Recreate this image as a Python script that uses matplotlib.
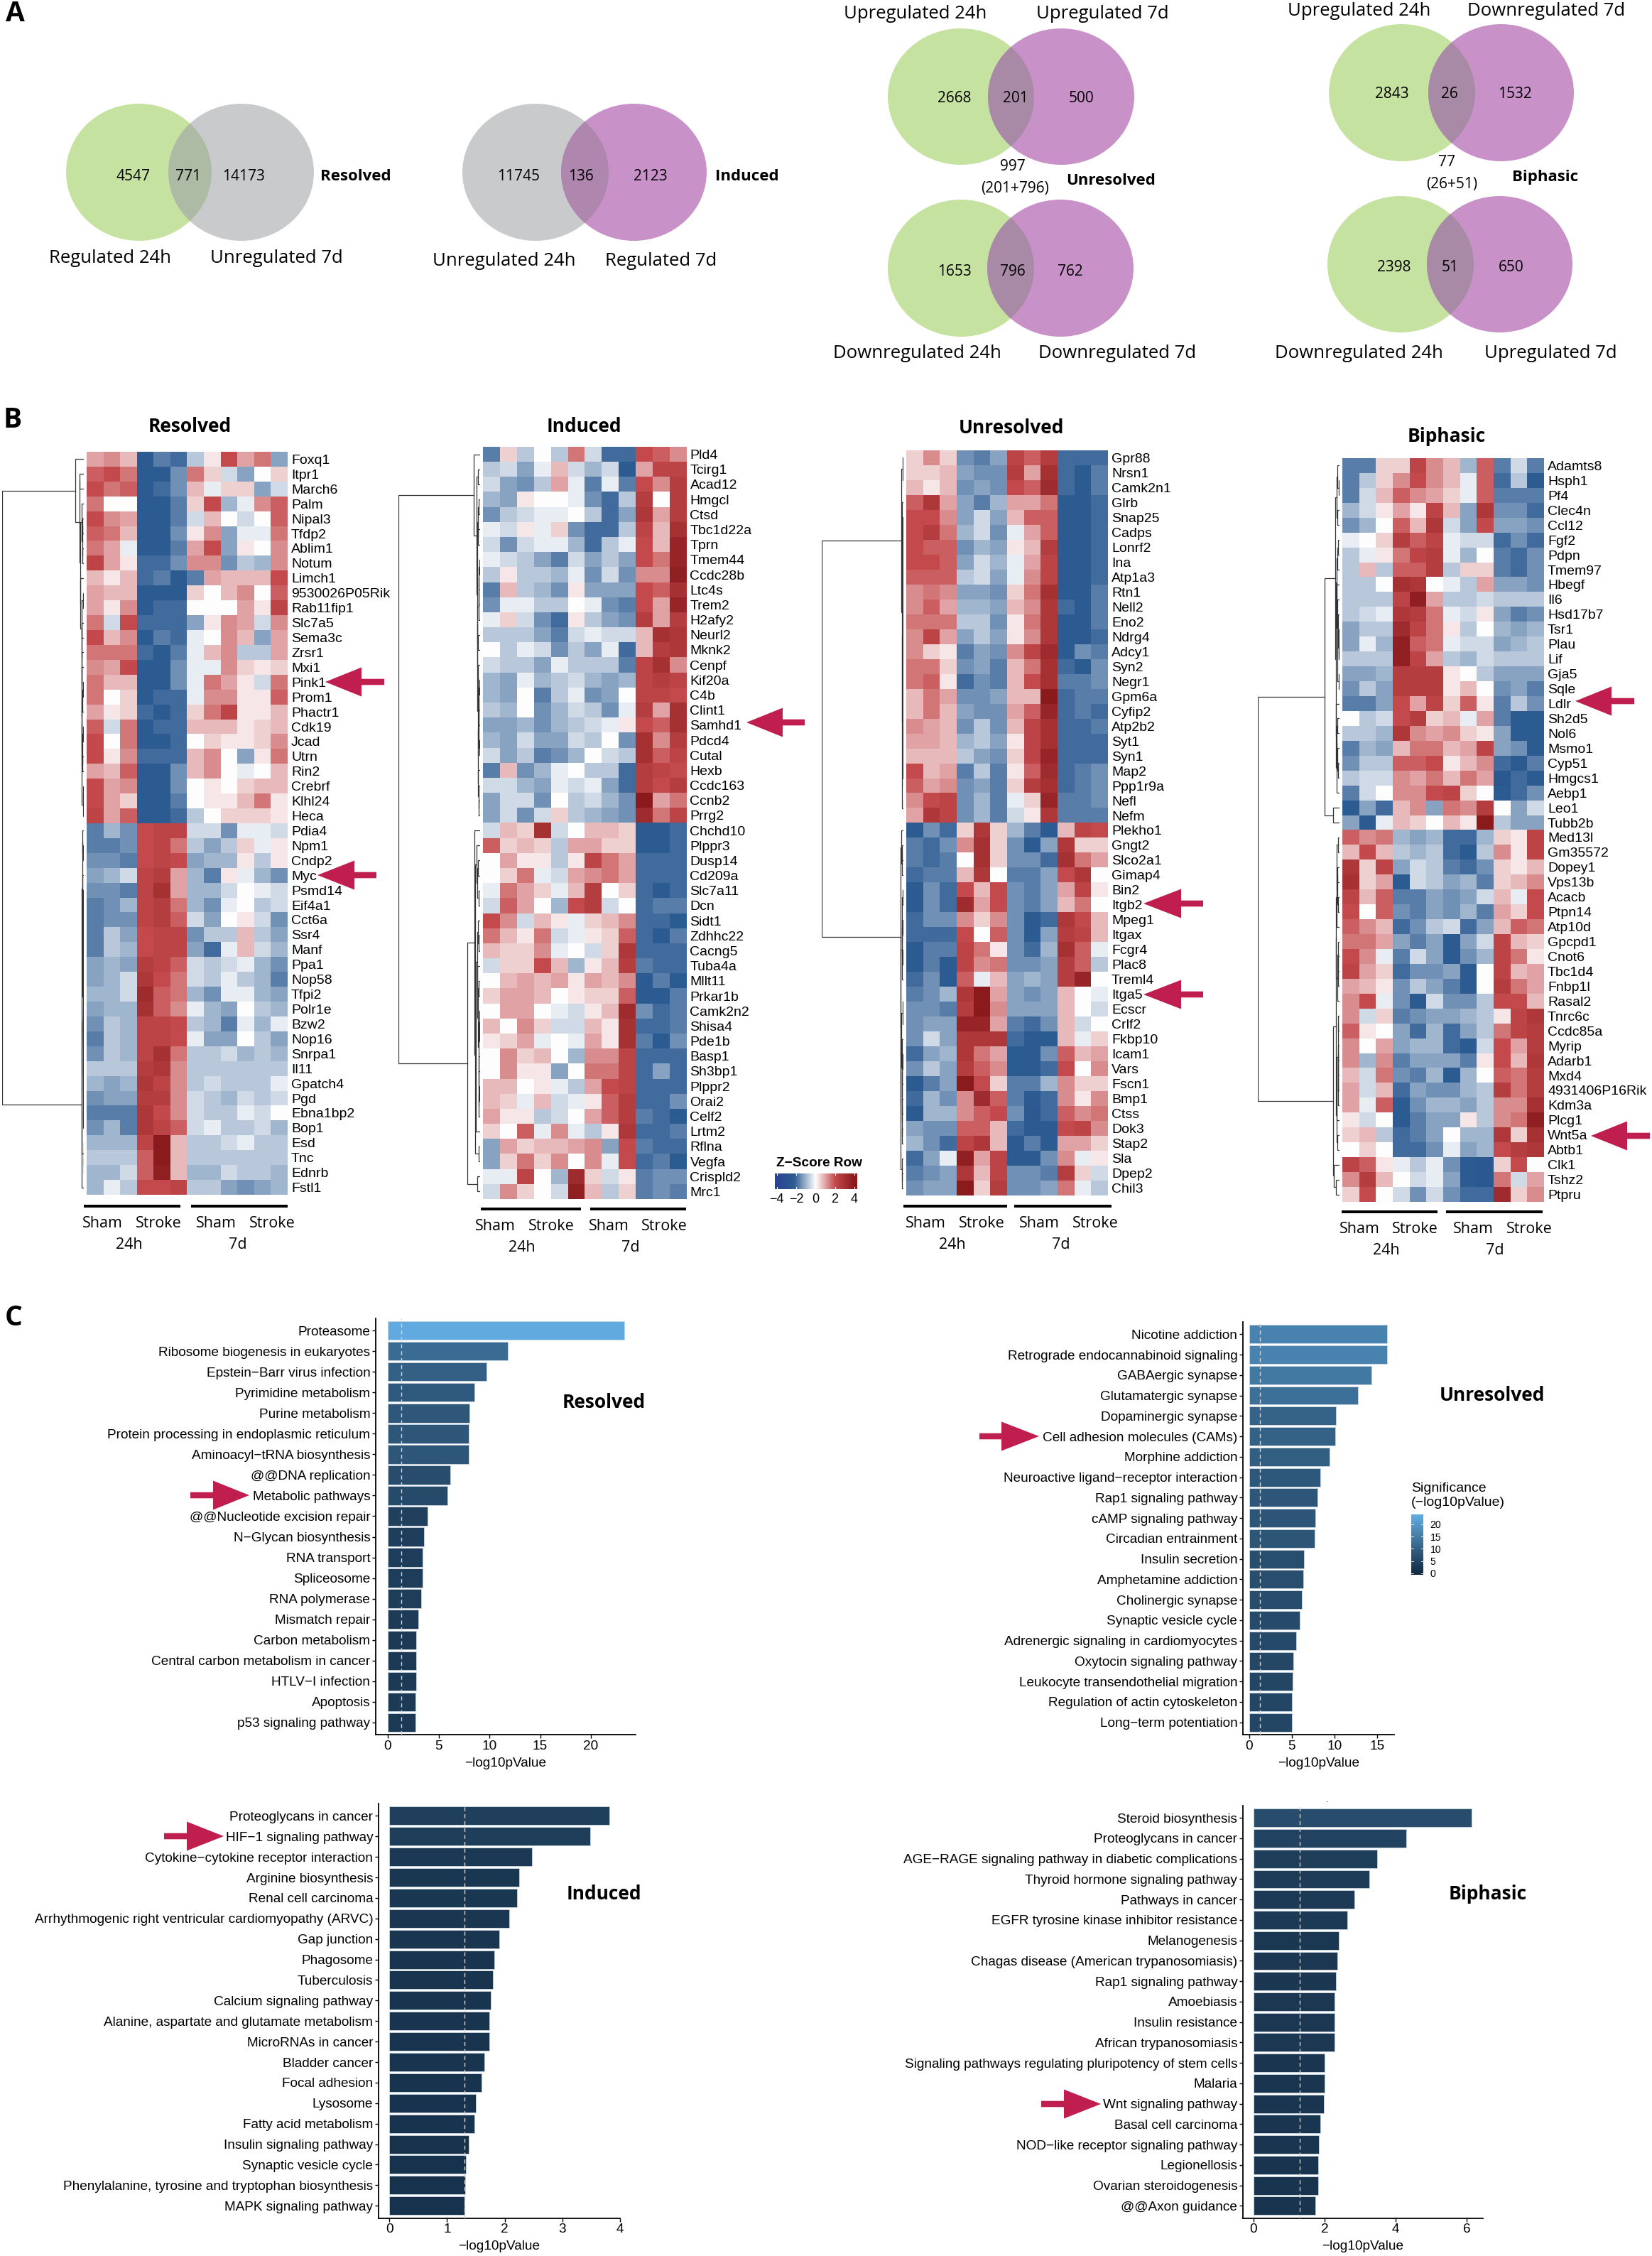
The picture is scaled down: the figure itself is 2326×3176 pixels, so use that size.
#!/usr/bin/env python3
import numpy as np
import matplotlib
matplotlib.use("Agg")
import matplotlib.pyplot as plt
from matplotlib.colors import LinearSegmentedColormap, Normalize
from matplotlib.patches import Ellipse, Polygon, Rectangle

W, H = 2326, 3176
HELV = "Liberation Sans"
OPEN = "Open Sans"
CRIMSON = "#bf1e4e"

# heat values are z-scores in quarter units (value / 4 = z)
resolved_genes = ["Foxq1", "Itpr1", "March6", "Palm", "Nipal3", "Tfdp2", "Ablim1", "Notum", "Limch1", "9530026P05Rik",
                  "Rab11fip1", "Slc7a5", "Sema3c", "Zrsr1", "Mxi1", "Pink1", "Prom1", "Phactr1", "Cdk19", "Jcad",
                  "Utrn", "Rin2", "Crebrf", "Klhl24", "Heca", "Pdia4", "Npm1", "Cndp2", "Myc", "Psmd14",
                  "Eif4a1", "Cct6a", "Ssr4", "Manf", "Ppa1", "Nop58", "Tfpi2", "Polr1e", "Bzw2", "Nop16",
                  "Snrpa1", "Il11", "Gpatch4", "Pgd", "Ebna1bp2", "Bop1", "Esd", "Tnc", "Ednrb", "Fstl1"]
resolved_heat = [
    [4,5,3,-9,-7,-8,-3,1,8,4,6,-5], [7,8,6,-9,-9,-6,6,2,-2,-5,0,2], [8,6,7,-9,-8,-6,3,-1,2,2,-5,-2],
    [6,0,0,-9,-9,-7,2,8,-4,-1,5,7], [8,5,4,-9,-9,-7,-2,3,0,-2,0,7], [7,6,3,-9,-9,-6,1,5,-5,-1,-1,6],
    [6,4,-1,-9,-9,-7,4,8,-5,1,0,5], [9,4,1,-8,-8,-6,5,5,-6,-3,-4,5], [3,1,3,-8,-7,-9,-7,4,3,3,3,8],
    [4,3,3,-9,-9,-9,2,0,3,5,0,7], [4,1,5,-9,-8,-8,0,0,0,4,1,9], [6,-2,8,-8,-8,-8,-5,1,5,4,-2,5],
    [8,3,5,-9,-7,-8,-1,0,5,3,-5,4], [6,6,6,-8,-9,-7,-1,3,5,-3,-3,4], [5,4,8,-9,-9,-6,-1,-1,5,2,1,2],
    [6,3,3,-9,-9,-6,-1,6,4,1,-2,6], [6,0,2,-9,-8,-8,-1,5,5,1,1,7], [4,1,2,-8,-9,-8,2,6,9,1,1,3],
    [7,-2,6,-9,-8,-8,3,3,3,1,2,3], [8,0,6,-9,-9,-8,0,2,1,1,2,5], [8,1,5,-8,-8,-8,3,5,0,-5,1,6],
    [4,3,7,-9,-9,-6,3,5,0,-1,0,3], [8,4,5,-9,-9,-6,0,1,0,2,3,3], [8,4,2,-9,-9,-7,0,1,1,3,6,1],
    [9,4,7,-9,-9,-8,-3,0,2,2,2,1], [-7,-4,-6,8,9,9,-2,-2,-6,-1,-1,-2], [-7,-7,-6,8,9,6,-3,-5,-3,2,-1,1],
    [-6,-6,-7,8,9,8,-5,-4,-4,1,-3,1], [-5,-4,-2,9,10,4,-4,-7,1,-1,-4,-6], [-6,-6,-7,9,12,4,-4,-4,-2,0,-1,-2],
    [-7,-6,-4,9,10,6,-4,-6,-1,0,-3,-2], [-7,-6,-6,9,10,7,-2,-5,0,1,-2,-6], [-7,-3,-5,8,9,9,-6,-3,-3,3,-3,-5],
    [-7,-3,-4,8,9,9,-5,-8,-1,3,-2,-4], [-5,-4,-5,10,9,7,-2,-3,-2,-1,-4,-6], [-5,-4,-2,11,8,6,-2,-3,-1,-3,-4,-7],
    [-4,-4,-2,13,7,6,-4,-6,-1,-1,-4,-5], [-5,-4,-4,12,7,5,-1,-4,-5,0,-3,-4], [-6,-3,-4,9,9,8,-3,-4,-7,-1,-4,-1],
    [-7,-3,-4,9,9,8,-1,-5,-5,0,-3,-5], [-6,-3,-4,9,12,6,-3,-3,-2,-4,-3,-4], [-3,-3,-3,10,11,5,-3,-3,-3,-3,-3,-3],
    [-4,-5,-4,11,9,5,-3,-2,-3,-3,-3,-1], [-6,-5,-5,10,10,5,-2,-3,-4,-2,-3,-2], [-7,-7,-7,11,8,5,-2,-3,-3,-1,-2,0],
    [-6,-4,-7,11,9,7,-2,-1,-3,-3,-2,-4], [-4,-4,-4,9,16,3,-3,-3,-2,-1,-3,-3], [-3,-3,-3,7,16,3,-3,-3,-3,-3,-3,-3],
    [-4,-4,-2,7,15,3,-4,-4,-2,-3,-3,-4], [-4,-1,-3,8,8,9,-3,-3,-5,-6,-5,-4]]

induced_genes = ["Pld4", "Tcirg1", "Acad12", "Hmgcl", "Ctsd", "Tbc1d22a", "Tprn", "Tmem44", "Ccdc28b", "Ltc4s",
                 "Trem2", "H2afy2", "Neurl2", "Mknk2", "Cenpf", "Kif20a", "C4b", "Clint1", "Samhd1", "Pdcd4",
                 "Cutal", "Hexb", "Ccdc163", "Ccnb2", "Prrg2", "Chchd10", "Plppr3", "Dusp14", "Cd209a", "Slc7a11",
                 "Dcn", "Sidt1", "Zdhhc22", "Cacng5", "Tuba4a", "Mllt11", "Prkar1b", "Camk2n2", "Shisa4", "Pde1b",
                 "Basp1", "Sh3bp1", "Plppr2", "Orai2", "Celf2", "Lrtm2", "Rflna", "Vegfa", "Crispld2", "Mrc1"]
induced_heat = [
    [-7,2,-3,0,-3,6,-2,-8,-8,8,7,5], [-3,-2,-5,-1,3,-2,-4,-2,-9,4,9,9], [-2,-5,-6,-3,4,-1,-7,-1,-7,8,5,10],
    [-4,-5,1,0,0,-1,-6,-8,-3,10,0,10], [-6,-3,-2,-1,-1,0,-3,-8,-5,11,4,10], [-1,-2,1,-1,2,-6,-8,-8,-3,9,3,12],
    [-2,-6,-2,-1,-1,-4,-8,-3,-1,8,3,14], [-1,-2,-3,-5,-7,-2,-5,-3,-5,8,6,14], [-3,1,-3,-3,-4,-1,-6,-2,-6,5,5,15],
    [-7,3,-3,-4,-6,1,-5,-5,-5,8,7,12], [-6,-1,-1,-3,-3,0,-1,-6,-7,8,4,14], [-1,2,-2,-6,-8,1,-3,-5,-6,10,4,10],
    [-3,-3,-3,-5,-7,-2,-1,-2,-2,3,12,11], [0,-3,-1,-2,-6,-3,-5,-1,-8,3,10,11], [-2,-3,-3,-5,-1,-3,-3,-3,-7,9,12,5],
    [-4,-5,-1,-4,-3,-2,-4,-5,-4,9,10,9], [-4,-5,0,-7,-3,-1,-6,-5,0,9,9,8], [-3,-4,0,-6,-4,-2,-3,-6,-1,10,4,12],
    [-5,-5,-4,-6,-4,-3,-2,-1,1,8,7,12], [-4,-5,-2,-5,-5,-2,-3,0,-6,12,5,10], [-2,-5,-3,-7,-6,-4,0,-2,-3,12,7,9],
    [-7,3,-6,-4,-1,0,-3,-3,-8,10,9,8], [-2,-2,-4,-5,-1,-2,-1,-5,-8,10,8,10], [-5,-2,-2,-6,0,-3,-2,-4,-6,16,4,6],
    [-5,-2,-6,-2,2,-3,-4,-5,-6,13,6,9], [-2,3,2,12,-2,0,3,3,2,-9,-9,-8], [7,2,3,2,-3,4,4,2,2,-9,-9,-8],
    [0,4,1,1,-3,1,9,6,4,-8,-8,-8], [0,2,6,-1,-2,4,5,6,4,-8,-8,-8], [-1,6,4,2,-1,3,10,0,2,-8,-9,-8],
    [-2,7,4,0,-4,8,10,-2,0,-8,-7,-7], [8,5,-2,3,1,-1,2,3,5,-8,-8,-9], [6,3,1,6,-2,-1,1,2,7,-8,-9,-7],
    [3,2,2,5,-1,0,-2,2,11,-8,-8,-8], [-2,2,2,8,3,-4,1,3,10,-7,-8,-8], [0,3,4,3,4,1,4,3,5,-9,-7,-9],
    [2,4,4,3,0,1,2,2,7,-9,-9,-7], [0,4,4,0,-1,-2,1,3,13,-6,-8,-7], [3,0,5,2,-2,-2,3,1,12,-8,-8,-7],
    [1,2,4,-1,0,-1,4,1,12,-7,-9,-6], [0,5,2,3,0,-4,5,5,9,-8,-8,-8], [0,5,1,1,-5,0,6,6,9,-8,-5,-8],
    [3,3,0,1,-1,-3,4,8,9,-8,-8,-8], [3,2,-1,3,-2,-1,1,7,10,-8,-8,-6], [4,1,1,-3,-2,0,4,7,10,-7,-8,-9],
    [2,0,7,-1,5,-1,-3,1,11,-8,-8,-7], [-5,4,2,3,3,4,5,-5,8,-7,-8,-8], [-5,2,6,2,5,0,5,-1,8,-8,-7,-9],
    [-1,-1,9,0,-4,13,2,-2,1,-7,-6,-6], [-2,5,2,0,-2,15,3,-3,2,-7,-6,-7]]

unresolved_genes = ["Gpr88", "Nrsn1", "Camk2n1", "Glrb", "Snap25", "Cadps", "Lonrf2", "Ina", "Atp1a3", "Rtn1",
                    "Nell2", "Eno2", "Ndrg4", "Adcy1", "Syn2", "Negr1", "Gpm6a", "Cyfip2", "Atp2b2", "Syt1",
                    "Syn1", "Map2", "Ppp1r9a", "Nefl", "Nefm", "Plekho1", "Gngt2", "Slco2a1", "Gimap4", "Bin2",
                    "Itgb2", "Mpeg1", "Itgax", "Fcgr4", "Plac8", "Treml4", "Itga5", "Ecscr", "Crlf2", "Fkbp10",
                    "Icam1", "Vars", "Fscn1", "Bmp1", "Ctss", "Dok3", "Stap2", "Sla", "Dpep2", "Chil3"]
unresolved_heat = [
    [2,5,2,-6,-7,-5,9,7,10,-8,-8,-8], [2,2,3,-5,-6,-6,10,4,12,-8,-9,-7], [3,1,3,-6,-5,-6,8,7,13,-8,-9,-7],
    [7,11,4,-5,-7,-4,4,4,6,-9,-9,-8], [8,8,5,-5,-2,-5,3,7,7,-9,-9,-8], [8,10,6,-4,-2,-6,-1,4,7,-9,-9,-8],
    [8,7,7,-6,-4,-5,1,3,10,-9,-9,-8], [8,8,7,-5,-2,-4,-1,4,9,-9,-9,-8], [7,7,7,-3,-2,-5,-1,5,9,-9,-9,-8],
    [5,6,5,-5,-5,-6,2,6,12,-9,-9,-7], [5,7,4,-4,-4,-5,3,5,11,-8,-9,-7], [6,6,6,-3,-3,-6,1,6,11,-9,-9,-7],
    [5,9,4,-5,-3,-5,1,5,11,-9,-9,-8], [5,2,1,-7,-5,-6,5,9,13,-9,-6,-7], [6,6,2,-6,-5,-7,3,6,12,-8,-9,-6],
    [6,7,1,-8,-6,-7,3,8,12,-7,-7,-6], [3,6,4,-6,-6,-5,3,3,16,-8,-7,-7], [3,6,3,-5,-6,-6,4,7,14,-8,-7,-8],
    [5,4,3,-6,-3,-6,3,9,12,-8,-8,-7], [4,4,3,-4,-3,-5,1,9,12,-8,-8,-8], [3,3,3,-3,-5,-6,2,9,14,-8,-8,-8],
    [8,3,4,-7,-3,-7,1,7,13,-8,-7,-6], [7,4,5,-6,-5,-7,2,10,12,-8,-7,-6], [5,8,9,-6,-4,-7,-1,2,14,-7,-7,-6],
    [4,11,9,-6,-4,-7,-2,1,11,-7,-7,-7], [-9,-6,-8,2,11,2,-4,-7,-9,3,9,8], [-7,-8,-6,5,12,2,-6,-9,-5,11,2,2],
    [-7,-8,-7,0,12,2,-6,-6,-8,12,6,4], [-8,-7,-7,3,11,0,-7,-7,-5,8,11,0], [-9,-6,-8,8,3,8,-6,-7,-5,4,9,1],
    [-9,-6,-8,13,4,8,-6,-7,-5,3,6,0], [-8,-6,-6,5,2,5,-6,-9,-8,11,8,3], [-8,-8,-8,8,0,7,-6,-9,-5,10,9,3],
    [-9,-7,-7,9,6,1,-6,-8,-4,12,7,-1], [-9,-7,-9,9,5,6,-6,-6,-5,10,7,-3], [-8,-6,-9,7,-1,3,-5,-4,-5,10,14,0],
    [-7,-6,-4,11,16,4,-5,-6,-5,3,0,-1], [-6,-6,-7,10,16,5,-5,-5,-5,3,0,-2], [-6,-5,-5,14,14,4,-7,-8,-6,3,-2,0],
    [-6,-2,-5,11,11,11,-8,-9,-9,3,-1,2], [-8,-5,-4,11,6,4,-9,-9,-6,7,3,4], [-6,-3,-5,10,7,5,-9,-9,-8,8,0,5],
    [-9,-7,-5,16,8,2,-7,-7,-4,5,2,2], [-8,-4,-6,5,13,7,-7,-9,-8,5,1,5], [-9,-4,-4,5,7,8,-6,-10,-8,7,5,6],
    [-5,-6,-6,7,7,3,-8,-9,-9,8,9,5], [-4,-6,-8,9,11,3,-9,-7,-9,4,4,2], [-8,-5,-1,15,4,9,-9,-9,-6,5,-1,1],
    [-7,-6,-5,11,3,9,-6,-6,-7,10,2,-2], [-6,-5,-5,16,2,10,-6,-6,-5,6,-1,-3]]

biphasic_genes = ["Adamts8", "Hsph1", "Pf4", "Clec4n", "Ccl12", "Fgf2", "Pdpn", "Tmem97", "Hbegf", "Il6",
                  "Hsd17b7", "Tsr1", "Plau", "Lif", "Gja5", "Sqle", "Ldlr", "Sh2d5", "Nol6", "Msmo1",
                  "Cyp51", "Hmgcs1", "Aebp1", "Leo1", "Tubb2b", "Med13l", "Gm35572", "Dopey1", "Vps13b", "Acacb",
                  "Ptpn14", "Atp10d", "Gpcpd1", "Cnot6", "Tbc1d4", "Fnbp1l", "Rasal2", "Tnrc6c", "Ccdc85a", "Myrip",
                  "Adarb1", "Mxd4", "4931406P16Rik", "Kdm3a", "Plcg1", "Wnt5a", "Abtb1", "Clk1", "Tshz2", "Ptpru"]
biphasic_heat = [
    [-7,-7,2,2,9,5,3,-4,7,-7,-2,-7], [-7,-3,2,5,8,5,3,-1,7,-8,-3,-9], [-7,-2,3,7,5,4,2,-1,7,-7,-7,-7],
    [-4,-2,1,4,1,9,3,-5,11,-6,-6,-8], [-6,-4,0,7,3,11,-2,-5,8,-5,-5,-6], [-1,0,2,10,7,9,-1,-2,-2,-8,-6,-8],
    [-3,-1,1,6,9,10,-1,-4,0,-7,-8,-6], [-3,3,-3,7,7,10,-3,2,2,-7,-8,-6], [-3,-3,0,12,11,0,-1,-3,4,-5,-5,-6],
    [-3,-3,-3,9,15,4,-3,-3,-2,-3,-3,-3], [-3,-2,-1,11,10,6,-1,-2,1,-5,-7,-6], [-5,-3,-3,13,9,6,1,-3,0,-4,-5,-4],
    [-5,-1,-4,15,7,6,-1,-2,-2,-5,-4,-3], [-3,-3,-3,15,9,4,-3,-4,-2,-3,-3,-3], [-5,-5,-4,10,10,10,1,0,-3,-5,-5,-5],
    [-6,-3,-5,10,10,10,1,3,0,-6,-5,-7], [-7,-7,-5,8,4,9,2,7,1,-7,-3,-6], [0,-3,-2,8,10,2,3,-1,4,-7,-9,-9],
    [-3,-3,-4,11,5,4,5,2,1,-5,-9,-9], [-7,-4,-5,3,6,6,3,4,9,-5,-6,-9], [-6,-3,-3,7,7,8,1,3,5,-8,-9,-7],
    [-3,-2,-2,5,4,6,3,6,4,-10,-8,-9], [-7,-2,0,5,5,8,9,2,0,-9,-8,-6], [-9,-5,-8,3,5,-5,6,5,10,0,-5,-2],
    [-5,-9,-1,3,2,0,3,1,16,-3,-5,-5], [7,5,6,-4,-5,-4,-8,-8,-4,2,1,9], [3,8,3,-3,-4,-3,-8,-9,-3,5,1,9],
    [11,2,9,-5,-2,-3,-7,-8,-6,2,1,3], [12,2,4,-9,-2,-3,-5,-4,-7,2,3,5], [9,3,7,-7,-7,-5,-6,-5,-2,3,-1,8],
    [8,0,7,-6,-7,-5,-6,-4,-7,4,2,8], [7,5,3,-8,-6,-3,-2,-8,-5,3,7,6], [6,6,4,-5,-7,-5,-9,-5,-2,9,3,2],
    [8,5,-1,-7,-2,-5,-9,-6,-4,9,6,1], [9,4,2,-8,-6,-6,-5,-9,0,9,3,4], [4,3,1,-6,-3,-5,-7,-9,0,10,6,4],
    [5,8,-1,-6,-9,-2,-6,-6,-3,8,8,3], [5,-2,2,-7,-6,-5,-5,-4,-3,1,9,11], [7,1,0,-5,-8,-4,-8,-5,-3,6,9,10],
    [5,0,4,-5,-4,-4,-8,-9,-2,8,4,10], [5,-4,5,-7,-5,-5,-5,-7,1,8,3,11], [3,-2,6,-6,-7,-4,-9,-4,0,7,6,10],
    [4,-2,3,-8,-5,-6,-6,-4,-3,10,6,10], [4,-1,7,-9,-6,-4,-4,-5,-3,5,5,12], [1,-2,0,-9,-7,-5,-5,1,-3,5,6,15],
    [2,3,-3,-8,-7,-5,0,-4,-4,11,2,12], [0,2,0,-8,-8,-6,-1,-5,-4,8,10,11], [9,7,1,-1,-3,-1,-6,-9,-10,2,8,0],
    [5,10,3,0,-2,-1,-5,-9,-10,6,-2,4], [2,8,0,-2,-6,-2,-6,-8,-8,13,2,5]]

resolved_terms = ["Proteasome", "Ribosome biogenesis in eukaryotes", "Epstein\u2212Barr virus infection",
                  "Pyrimidine metabolism", "Purine metabolism", "Protein processing in endoplasmic reticulum",
                  "Aminoacyl\u2212tRNA biosynthesis", "@@DNA replication", "Metabolic pathways",
                  "@@Nucleotide excision repair", "N\u2212Glycan biosynthesis", "RNA transport", "Spliceosome",
                  "RNA polymerase", "Mismatch repair", "Carbon metabolism", "Central carbon metabolism in cancer",
                  "HTLV\u2212I infection", "Apoptosis", "p53 signaling pathway"]
resolved_vals = [23.28, 11.8, 9.7, 8.5, 8.04, 8.0, 7.98, 6.16, 5.85, 3.88,
                 3.57, 3.44, 3.39, 3.3, 3.0, 2.8, 2.8, 2.8, 2.72, 2.72]

unresolved_terms = ["Nicotine addiction", "Retrograde endocannabinoid signaling", "GABAergic synapse",
                    "Glutamatergic synapse", "Dopaminergic synapse", "Cell adhesion molecules (CAMs)",
                    "Morphine addiction", "Neuroactive ligand\u2212receptor interaction", "Rap1 signaling pathway",
                    "cAMP signaling pathway", "Circadian entrainment", "Insulin secretion", "Amphetamine addiction",
                    "Cholinergic synapse", "Synaptic vesicle cycle", "Adrenergic signaling in cardiomyocytes",
                    "Oxytocin signaling pathway", "Leukocyte transendothelial migration",
                    "Regulation of actin cytoskeleton", "Long\u2212term potentiation"]
unresolved_vals = [16.18, 16.18, 14.33, 12.72, 10.15, 10.1, 9.43, 8.3, 8.0, 7.76,
                   7.7, 6.45, 6.33, 6.15, 5.9, 5.55, 5.2, 5.07, 5.02, 5.02]

induced_terms = ["Proteoglycans in cancer", "HIF\u22121 signaling pathway", "Cytokine\u2212cytokine receptor interaction",
                 "Arginine biosynthesis", "Renal cell carcinoma",
                 "Arrhythmogenic right ventricular cardiomyopathy (ARVC)", "Gap junction", "Phagosome", "Tuberculosis",
                 "Calcium signaling pathway", "Alanine, aspartate and glutamate metabolism", "MicroRNAs in cancer",
                 "Bladder cancer", "Focal adhesion", "Lysosome", "Fatty acid metabolism", "Insulin signaling pathway",
                 "Synaptic vesicle cycle", "Phenylalanine, tyrosine and tryptophan biosynthesis",
                 "MAPK signaling pathway"]
induced_vals = [3.81, 3.48, 2.475, 2.25, 2.216, 2.08, 1.91, 1.82, 1.79, 1.76,
                1.737, 1.73, 1.65, 1.603, 1.5, 1.47, 1.375, 1.33, 1.32, 1.297]

biphasic_terms = ["Steroid biosynthesis", "Proteoglycans in cancer",
                  "AGE\u2212RAGE signaling pathway in diabetic complications", "Thyroid hormone signaling pathway",
                  "Pathways in cancer", "EGFR tyrosine kinase inhibitor resistance", "Melanogenesis",
                  "Chagas disease (American trypanosomiasis)", "Rap1 signaling pathway", "Amoebiasis",
                  "Insulin resistance", "African trypanosomiasis",
                  "Signaling pathways regulating pluripotency of stem cells", "Malaria", "Wnt signaling pathway",
                  "Basal cell carcinoma", "NOD\u2212like receptor signaling pathway", "Legionellosis",
                  "Ovarian steroidogenesis", "@@Axon guidance"]
biphasic_vals = [6.14, 4.29, 3.47, 3.26, 2.83, 2.64, 2.4, 2.35, 2.31, 2.28,
                 2.28, 2.28, 2.0, 2.0, 1.98, 1.88, 1.84, 1.82, 1.82, 1.74]

resolved_counts = [4547, 771, 14173]
induced_counts = [11745, 136, 2123]
unres_up_counts = [2668, 201, 500]
unres_down_counts = [1653, 796, 762]
biph_up_counts = [2843, 26, 1532]
biph_down_counts = [2398, 51, 650]

SIG_MAX = 23.3
heat_cmap = LinearSegmentedColormap.from_list(
    "heat", [(0, "#2a4494"), (1.8 / 8, "#2d5c92"), (0.5, "#ffffff"), (0.75, "#c44a4d"), (1, "#8a1a1c")])
heat_norm = Normalize(-4, 4)
sig_cmap = LinearSegmentedColormap.from_list("sig", ["#132B43", "#60AADF"])


def px(n):
    return n * 0.72


fig = plt.figure(figsize=(W / 100, H / 100), dpi=100)


def place(left, top, right, bottom, **kw):
    return fig.add_axes([left / W, 1 - bottom / H, (right - left) / W, (bottom - top) / H], **kw)


def row_dist(a, b):
    r = np.corrcoef(a.mean(axis=0), b.mean(axis=0))[0, 1]
    if np.isnan(r):
        r = 0.0
    return 1 - r


def draw_dendro(ax, heat, width):
    # order-keeping agglomeration of neighbouring rows, height from correlation distance
    rows = np.array(heat, dtype=float)
    nodes = [{"rows": rows[[i]], "y": i + 0.5, "h": 0.0} for i in range(len(rows))]
    links = []
    while len(nodes) > 1:
        d = [row_dist(nodes[i]["rows"], nodes[i + 1]["rows"]) for i in range(len(nodes) - 1)]
        i = int(np.argmin(d))
        a, b = nodes[i], nodes[i + 1]
        h = max(d[i], a["h"], b["h"])
        links.append((a["y"], a["h"], b["y"], b["h"], h))
        nodes[i:i + 2] = [{"rows": np.vstack([a["rows"], b["rows"]]), "y": (a["y"] + b["y"]) / 2, "h": h}]
    top = links[-1][4]
    for y0, h0, y1, h1, h in links:
        xs = [-width * (v / top) ** 1.2 for v in (h0, h, h, h1)]
        ax.plot(xs, [y0, y0, y1, y1], color="#333333", lw=0.9, solid_joinstyle="miter")
    ax.set_xlim(-width, 0)
    ax.set_ylim(len(rows), 0)
    ax.axis("off")


def heat_panel(genes, heat, left, top, right, bottom):
    ax = place(left, top, right, bottom)
    ax.imshow(np.array(heat) / 4, cmap=heat_cmap, norm=heat_norm, aspect="auto", interpolation="nearest")
    ax.set_xticks([])
    ax.yaxis.tick_right()
    ax.set_yticks(range(len(genes)))
    ax.set_yticklabels(genes, fontsize=px(19.5), family=HELV)
    ax.tick_params(axis="y", length=0, pad=3.6)
    for s in ax.spines.values():
        s.set_visible(False)
    dax = place(left - 119, top, left - 4, bottom)
    draw_dendro(dax, heat, 115)


def bar_panel(terms, vals, left, top, right, bottom, xlim, xticks):
    ax = place(left, top, right, bottom)
    ys = np.arange(len(terms))[::-1]
    ax.barh(ys, vals, height=0.9, color=sig_cmap(np.array(vals) / SIG_MAX), edgecolor="#c9d6e2", linewidth=0.6)
    ax.axvline(1.3, color="#d4d4d4", lw=1.0, ls=(0, (4, 3)), zorder=5)
    ax.set_xlim(*xlim)
    ax.set_ylim(-0.6, len(terms) - 0.4)
    ax.set_yticks(ys)
    ax.set_yticklabels(terms, fontsize=px(19), family=HELV)
    ax.set_xticks(xticks)
    ax.set_xticklabels([str(t) for t in xticks], fontsize=px(19), family=HELV)
    ax.set_xlabel("\u2212log10pValue", fontsize=px(19), family=HELV, labelpad=5)
    ax.tick_params(axis="both", length=3.5, width=1, pad=2)
    ax.spines["top"].set_visible(False)
    ax.spines["right"].set_visible(False)
    ax.spines["left"].set_linewidth(1.3)
    ax.spines["bottom"].set_linewidth(1.3)
    ax.patch.set_alpha(0)
    return ax


heat_panel(resolved_genes, resolved_heat, 122, 636, 405, 1682)
heat_panel(induced_genes, induced_heat, 680, 629, 966.5, 1688)
heat_panel(unresolved_genes, unresolved_heat, 1276, 634, 1560, 1683)
heat_panel(biphasic_genes, biphasic_heat, 1890, 645, 2174, 1692)

bar_panel(resolved_terms, resolved_vals, 529, 1856, 895, 2442, (-1.19, 24.4), [0, 5, 10, 15, 20])
bar_panel(unresolved_terms, unresolved_vals, 1750, 1861, 1963, 2442, (-0.72, 16.98), [0, 5, 10, 15])
bar_panel(induced_terms, induced_vals, 533, 2539, 873, 3122.6, (-0.188, 4.0), [0, 1, 2, 3, 4])
bar_panel(biphasic_terms, biphasic_vals, 1750, 2542, 2088, 3122.6, (-0.3, 6.46), [0, 2, 4, 6])

# colour keys
kax = place(1091, 1651.5, 1207, 1674)
kax.imshow(np.linspace(-4.2, 4.3, 256)[None, :], cmap=heat_cmap, norm=heat_norm, aspect="auto",
           extent=(-4.2, 4.3, 0, 1))
kax.set_xticks([-4, -2, 0, 2, 4])
kax.set_xticklabels(["\u22124", "\u22122", "0", "2", "4"], fontsize=px(18), family=HELV)
kax.set_yticks([])
kax.tick_params(axis="x", length=0, pad=4)
kax.axis("on")
for s in kax.spines.values():
    s.set_visible(False)
for t in [-4, -2, 0, 2, 4]:
    kax.plot([t, t], [0, 0.13], color="white", lw=0.8)
    kax.plot([t, t], [0.87, 1], color="white", lw=0.8)
kax.set_xlim(-4.2, 4.3)
kax.set_ylim(0, 1)

sax = place(1987, 2132, 2004, 2217)
sax.imshow(np.linspace(24, -0.6, 128)[:, None], cmap=sig_cmap, norm=Normalize(0, SIG_MAX), aspect="auto",
           extent=(0, 1, -0.6, 24))
sax.set_xticks([])
sax.yaxis.tick_right()
sax.set_yticks([0, 5, 10, 15, 20])
sax.set_yticklabels(["0", "5", "10", "15", "20"], fontsize=px(14), family=HELV)
sax.tick_params(axis="y", length=0, pad=7)
for s in sax.spines.values():
    s.set_visible(False)
for t in [0, 5, 10, 15, 20]:
    sax.plot([0, 0.2], [t, t], color="white", lw=0.6)
    sax.plot([0.8, 1], [t, t], color="white", lw=0.6)
sax.set_xlim(0, 1)
sax.set_ylim(-0.6, 24)

# everything placed by hand goes on one overlay in pixel coordinates
ov = fig.add_axes([0, 0, 1, 1], zorder=10)
ov.set_xlim(0, W)
ov.set_ylim(H, 0)
ov.axis("off")
ov.patch.set_alpha(0)

GREEN, GREY, PURPLE = "#c6e2a0", "#c8cacc", "#c892c8"
LAP_GREEN_GREY, LAP_GREY_PURPLE, LAP_GREEN_PURPLE = "#aebba4", "#ae86ae", "#a98aa6"


def venn(x0, x1, x2, x3, top, bottom, col_a, col_b, col_lap):
    cy = (top + bottom) / 2
    a = Ellipse(((x0 + x1) / 2, cy), x1 - x0, bottom - top, facecolor=col_a, edgecolor="none")
    b = Ellipse(((x2 + x3) / 2, cy), x3 - x2, bottom - top, facecolor=col_b, edgecolor="none")
    ov.add_patch(a)
    ov.add_patch(b)
    lap = Ellipse(((x0 + x1) / 2, cy), x1 - x0, bottom - top, facecolor=col_lap, edgecolor="none")
    ov.add_patch(lap)
    lap.set_clip_path(b)


def txt(x, y, s, size=18.5, weight="normal", family=OPEN, ha="center"):
    ov.text(x, y, s, fontsize=size, fontweight=weight, family=family, ha=ha, va="center", color="black")


def counts(xs, y, vals):
    for x, v in zip(xs, vals):
        txt(x, y, str(v), size=15)


venn(93, 298, 237, 442, 146, 339, GREEN, GREY, LAP_GREEN_GREY)
counts([188, 265, 343], 249, resolved_counts)
txt(501, 249, "Resolved", size=16, weight="bold")
txt(155, 363, "Regulated 24h")
txt(389, 363, "Unregulated 7d")

venn(651, 857, 790, 995, 146, 339, GREY, PURPLE, LAP_GREY_PURPLE)
counts([730, 818, 916], 249, induced_counts)
txt(1052, 249, "Induced", size=16, weight="bold")
txt(710, 368, "Unregulated 24h")
txt(931, 368, "Regulated 7d")

venn(1250, 1456, 1391, 1597, 40, 232, GREEN, PURPLE, LAP_GREEN_PURPLE)
counts([1344, 1430, 1523], 138, unres_up_counts)
txt(1289, 19, "Upregulated 24h")
txt(1552, 19, "Upregulated 7d")
txt(1426, 235, "997", size=15)
txt(1429, 265, "(201+796)", size=15)
txt(1564, 254, "Unresolved", size=16, weight="bold")
venn(1250, 1456, 1390, 1596, 281, 474, GREEN, PURPLE, LAP_GREEN_PURPLE)
counts([1344, 1426, 1507], 383, unres_down_counts)
txt(1291, 497, "Downregulated 24h")
txt(1573, 497, "Downregulated 7d")

venn(1871, 2077, 2011, 2216, 34, 227, GREEN, PURPLE, LAP_GREEN_PURPLE)
counts([1960, 2041, 2133], 133, biph_up_counts)
txt(1914, 16, "Upregulated 24h")
txt(2177, 16, "Downregulated 7d")
txt(2037, 229, "77", size=15)
txt(2044, 259, "(26+51)", size=15)
txt(2176, 249, "Biphasic", size=16, weight="bold")
venn(1869, 2075, 2009, 2214, 276, 468, GREEN, PURPLE, LAP_GREEN_PURPLE)
counts([1963, 2042, 2128], 377, biph_down_counts)
txt(1913, 497, "Downregulated 24h")
txt(2183, 497, "Upregulated 7d")

txt(21, 19, "A", size=28, weight="bold")
txt(18, 592, "B", size=28, weight="bold")
txt(19, 1856, "C", size=28, weight="bold")

txt(267, 600, "Resolved", size=19, weight="bold")
txt(822, 600, "Induced", size=19, weight="bold")
txt(1424, 603, "Unresolved", size=19, weight="bold")
txt(2037, 615, "Biphasic", size=19, weight="bold")

txt(850, 1975, "Resolved", size=19, weight="bold")
txt(2101, 1964, "Unresolved", size=19, weight="bold")
txt(850, 2666, "Induced", size=19, weight="bold")
txt(2095, 2666, "Biphasic", size=19, weight="bold")
txt(1869, 2534, ".", size=9, family=HELV)

txt(1153, 1638, "Z\u2212Score Row", size=px(19), weight="bold", family=HELV)
txt(1987, 2096, "Significance", size=px(19.5), family=HELV, ha="left")
txt(1987, 2115, "(\u2212log10pValue)", size=px(19.5), family=HELV, ha="left")


def group_marks(bars, y_bar, xs, y_lab, x24, x7, y_time):
    for b0, b1 in bars:
        ov.add_patch(Rectangle((b0, y_bar - 2), b1 - b0, 4, facecolor="black", edgecolor="none"))
    for x, s in zip(xs, ["Sham", "Stroke", "Sham", "Stroke"]):
        txt(x, y_lab, s, size=15.5)
    txt(x24, y_time, "24h", size=15.5)
    txt(x7, y_time, "7d", size=15.5)


group_marks([(118, 254), (269, 405)], 1698, [144, 223, 304, 383], 1722, 182, 335, 1753)
group_marks([(677, 818), (831, 966)], 1702, [697, 776, 857, 935], 1726, 735, 888, 1757)
group_marks([(1272, 1418), (1428, 1565)], 1698, [1303, 1382, 1463, 1542], 1722, 1341, 1494, 1753)
group_marks([(1889, 2024), (2036, 2172)], 1706, [1914, 1992, 2074, 2153], 1730, 1952, 2105, 1761)


def arrow(tail, base, head, y):
    pts = [(tail, y - 4.3), (base, y - 4.3), (base, y - 20.5), (head, y),
           (base, y + 20.5), (base, y + 4.3), (tail, y + 4.3)]
    ov.add_patch(Polygon(pts, closed=True, facecolor=CRIMSON, edgecolor="none"))


arrow(541, 509, 458, 960)
arrow(530, 499, 447, 1232)
arrow(1133, 1102, 1051, 1017)
arrow(1694, 1663, 1610, 1272)
arrow(1694, 1663, 1610, 1400)
arrow(2301, 2269, 2218, 987)
arrow(2323, 2291, 2240, 1599)
arrow(268, 300, 351, 2105)
arrow(1379, 1410, 1463, 2022)
arrow(231, 263, 315, 2585)
arrow(1466, 1498, 1550, 2962)

plt.savefig("out.png", dpi=100)
plt.close()
